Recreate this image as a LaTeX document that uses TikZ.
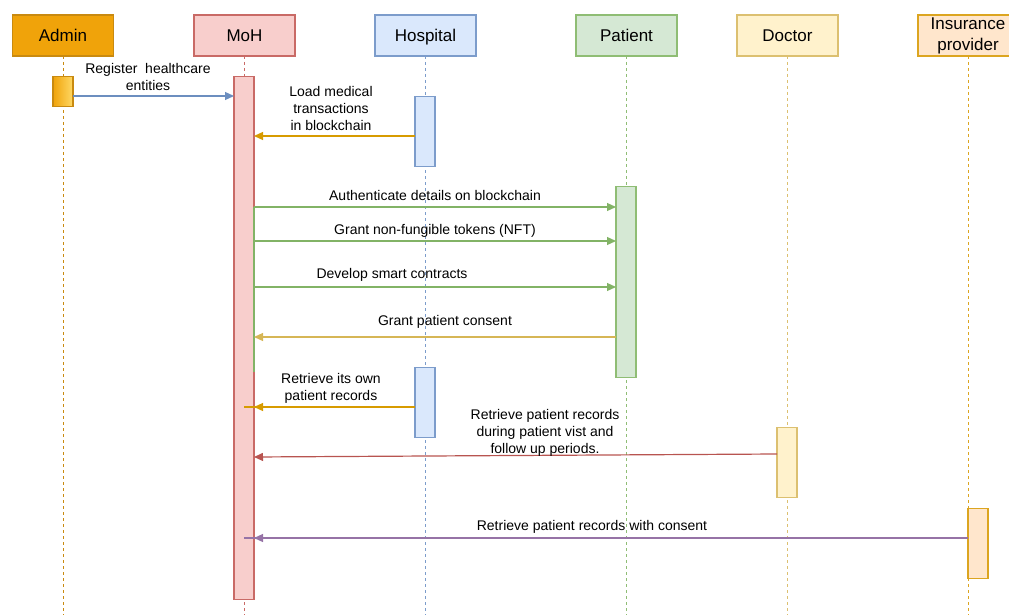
\documentclass[tikz,border=0pt]{standalone}
\usepackage{fontspec}
\setmainfont{Liberation Sans}
\usetikzlibrary{arrows.meta}
\definecolor{admF}{HTML}{F0A30A}\definecolor{admS}{HTML}{C98A10}
\definecolor{mohF}{HTML}{F8CECC}\definecolor{mohS}{HTML}{C96A66}
\definecolor{hosF}{HTML}{DAE8FC}\definecolor{hosS}{HTML}{7C9CCB}
\definecolor{patF}{HTML}{D5E8D4}\definecolor{patS}{HTML}{8FBD74}
\definecolor{docF}{HTML}{FFF2CC}\definecolor{docS}{HTML}{DCC070}
\definecolor{insF}{HTML}{FFE6CC}\definecolor{insS}{HTML}{DCA520}
\definecolor{arB}{HTML}{6C8EBF}\definecolor{arO}{HTML}{D79B00}
\definecolor{arG}{HTML}{82B366}\definecolor{arY}{HTML}{D6B656}
\definecolor{arR}{HTML}{B85450}
\definecolor{purS}{HTML}{9673A6}
\definecolor{yelG}{HTML}{FFD966}
\tikzset{
  head/.style={draw=#1S, fill=#1F, line width=1.1pt, minimum width=101pt, minimum height=41pt, inner sep=0pt, font=\fontsize{17}{21}\selectfont, align=center},
  one/.style={text height=14pt, text depth=1.8pt},
  bar/.style={draw=#1S, fill=#1F, line width=1.1pt, minimum width=20pt, inner sep=0pt, anchor=north},
  life/.style={draw=#1, dash pattern=on 3pt off 3pt, line width=1pt},
  msg/.style={draw=#1, line width=1.2pt, -{Triangle[length=9pt,width=8pt]}},
  lbl/.style={font=\fontsize{14}{17}\selectfont, align=center, inner sep=0pt}
}
\begin{document}
\begin{tikzpicture}[x=1pt,y=-1pt]
\useasboundingbox (0,0) rectangle (1009,615);
\clip (0,0) rectangle (1009,615);
% lifelines
\draw[life=admS] (63,56) -- (63,615);
\draw[life=mohS] (244,56) -- (244,615);
\draw[life=hosS] (425,56) -- (425,615);
\draw[life=patS] (626,56) -- (626,615);
\draw[life=docS] (787,56) -- (787,615);
\draw[life=insS] (968,56) -- (968,615);
% headers
\node[head=adm, one] (admin) at (63,35.5) {Admin};
\node[head=moh, one] (moh) at (244.5,35.5) {MoH};
\node[head=hos, one] (hosp) at (425.5,35.5) {Hospital};
\node[head=pat, one] (pat) at (626.5,35.5) {Patient};
\node[head=doc, one] (doc) at (787.5,35.5) {Doctor};
\node[head=ins, minimum width=100pt] (ins) at (968,35.5) {Insurance\\provider};
% activation bars
\node[draw=admS, line width=1.1pt, minimum width=20pt, minimum height=30pt, inner sep=0pt, anchor=north, left color=admF, right color=yelG] (adminbar) at (63,76) {};
\node[bar=moh, minimum height=523pt] (mohbar) at (244,76) {};
\node[bar=hos, minimum height=70pt] (hos1) at (425,96) {};
\node[bar=pat, minimum height=191pt] (patbar) at (626,186) {};
\node[bar=hos, minimum height=70pt] (hos2) at (425,367) {};
\node[bar=doc, minimum height=70pt] (docbar) at (787,427) {};
\node[bar=ins, minimum height=70pt] (insbar) at (978,508) {};
% coordinates on bars
\coordinate (m1) at (234,96);
\coordinate (m2) at (254,136);
\coordinate (m3) at (254,207);
\coordinate (m4) at (254,241);
\coordinate (m5) at (254,287);
\coordinate (m6) at (254,337);
\coordinate (m7) at (254,407);
\coordinate (m8) at (254,457);
\coordinate (m9) at (254,538);
\coordinate (a1) at (73,96);
\coordinate (h1) at (415,136);
\coordinate (p3) at (616,207);
\coordinate (p4) at (616,241);
\coordinate (p5) at (616,287);
\coordinate (p6) at (616,337);
\coordinate (h2) at (415,407);
\coordinate (d8) at (777,454);
\coordinate (i9) at (968,538);
\coordinate (t7) at (244,407);
\coordinate (t9) at (244,538);
% thin green edge on MoH bar
\draw[arG, line width=1.1pt] (m3) -- (254,372);
% messages
\draw[msg=arB] (a1) -- (m1);
\draw[msg=arO] (h1) -- (m2);
\draw[msg=arG] (m3) -- (p3);
\draw[msg=arG] (m4) -- (p4);
\draw[msg=arG] (m5) -- (p5);
\draw[msg=arY] (p6) -- (m6);
\draw[arO, line width=1.2pt] (h2) -- (t7);
\draw[msg=arO] (h2) -- (m7);
\draw[msg=arR] (d8) -- (m8);
\draw[purS, line width=1.2pt] (i9) -- (t9);
\draw[msg=purS] (i9) -- (m9);
% labels
\node[lbl] (l1) at (148,76.5) {Register\ \ healthcare\\entities};
\node[lbl] (l2) at (331,108.5) {Load medical\\transactions\\in blockchain};
\node[lbl] (l3) at (435,195) {Authenticate details on blockchain};
\node[lbl] (l4) at (435,231) {Grant non-fungible tokens (NFT)};
\node[lbl] (l5) at (392,275) {Develop smart contracts};
\node[lbl] (l6) at (445,322) {Grant patient consent};
\node[lbl] (l7) at (331,388) {Retrieve its own\\patient records};
\node[lbl] (l8) at (545,432.5) {Retrieve patient records\\during patient vist and\\follow up periods.};
\node[lbl] (l9) at (592,527) {Retrieve patient records with consent};
\end{tikzpicture}
\end{document}
